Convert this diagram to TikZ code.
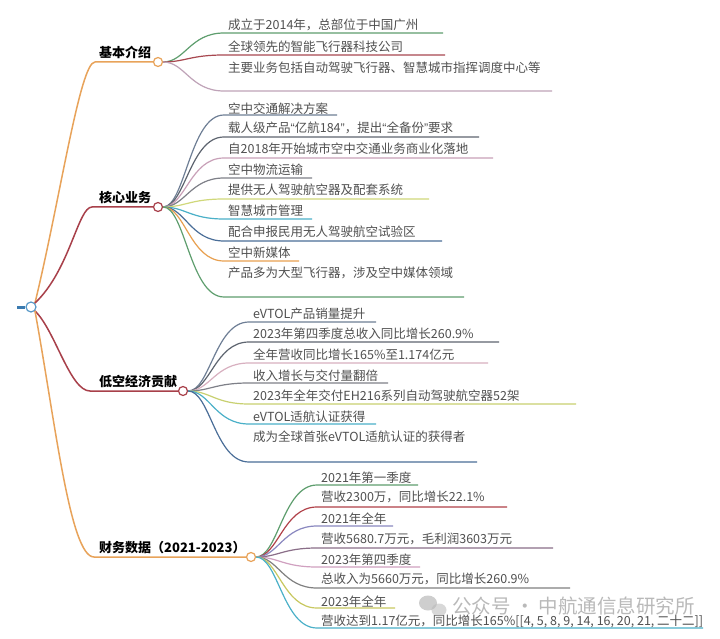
\documentclass[tikz,border=0pt]{standalone}
\usepackage{fontspec}
\setmainfont{Noto Sans CJK SC}
\newfontfamily\latinq{Liberation Sans}
\newcommand\myLq{{\latinq “}}
\newcommand\myRq{{\latinq ”}}
\definecolor{morange}{HTML}{E8A35A}
\definecolor{mred}{HTML}{A8404A}
\definecolor{mblue}{HTML}{3A7AB0}
\definecolor{mcirc}{HTML}{5A9AC8}
\definecolor{ktext}{HTML}{505050}
\definecolor{kgreen}{HTML}{5E9E6E}
\definecolor{kred}{HTML}{A84850}
\definecolor{kmauve}{HTML}{BFA3B8}
\definecolor{kbluegray}{HTML}{6E7E95}
\definecolor{kdark}{HTML}{5E6570}
\definecolor{kpink}{HTML}{C8A0B8}
\definecolor{kgray}{HTML}{7E8088}
\definecolor{kyellow}{HTML}{D0D87A}
\definecolor{kcyan}{HTML}{4AB0C8}
\definecolor{ksteel}{HTML}{4A6E98}
\definecolor{korange}{HTML}{E8A050}
\definecolor{kpinkb}{HTML}{D8B0C0}
\definecolor{kyellowb}{HTML}{C8D070}
\definecolor{kredb}{HTML}{B04048}
\definecolor{kpurple}{HTML}{8A88C0}
\definecolor{kmauveb}{HTML}{8A6E88}
\definecolor{kpinkc}{HTML}{D0A0C0}
\definecolor{kgrayb}{HTML}{808080}
\definecolor{kyellowc}{HTML}{C8C860}
\tikzset{
  hub/.style={circle, fill=white, line width=1.2pt, minimum size=9pt, inner sep=0pt},
  mainline/.style={line width=1.5pt},
  kidline/.style={line width=1.2pt},
  kidtext/.style={anchor=west, inner sep=0pt, text=ktext, font=\fontsize{12.5}{14}\selectfont},
  lab/.style={anchor=south west, inner sep=0pt, font=\fontsize{13}{15}\selectfont\bfseries, text=black},
}
% name, parent, colour, xtext, ytext, yline, xend, text
\newcommand\kid[8]{%
  \node[kidtext] (#1) at (#4,#5) {#8};
  \coordinate (#1-s) at ({#4-4},#6);
  \coordinate (#1-e) at (#7,#6);
  \draw[kidline, draw=#3] (#2.east) .. controls +(22,0) and +(-34,0) .. (#1-s) -- (#1-e);
}
\begin{document}
\begin{tikzpicture}[x=1pt,y=-1pt]
\useasboundingbox (0,0) rectangle (720,639);
\fill[white] (0,0) rectangle (720,639);

% root
\node[hub, draw=mcirc, minimum size=10pt] (root) at (31,307) {};
\coordinate (rootdash) at (17,307);
\draw[mblue, line width=3pt] (rootdash) -- (root.west);

% main branches
\node[hub, draw=morange] (b1) at (158,62) {};
\node[lab] (b1t) at (99,59) {基本介绍};
\coordinate (b1s) at (95,62);
\draw[mainline, morange] (root.north east) .. controls (60,200) and (80,62) .. (b1s) -- (b1.west);

\node[hub, draw=mred] (b2) at (158,207) {};
\node[lab] (b2t) at (99,204) {核心业务};
\coordinate (b2s) at (92,207);
\draw[mainline, mred] (root.north east) .. controls (70,270) and (78,207) .. (b2s) -- (b2.west);

\node[hub, draw=mred] (b3) at (183,391) {};
\node[lab] (b3t) at (99,388) {低空经济贡献};
\coordinate (b3s) at (90,391);
\draw[mainline, mred] (root.south east) .. controls (55,330) and (70,391) .. (b3s) -- (b3.west);

\node[hub, draw=morange] (b4) at (251,557) {};
\node[lab] (b4t) at (99,554) {财务数据（2021-2023）};
\coordinate (b4s) at (94,557);
\draw[mainline, morange] (root.south east) .. controls (55,420) and (70,557) .. (b4s) -- (b4.west);

% 基本介绍
\kid{c11}{b1}{kgreen}{228}{25}{33}{443}{成立于2014年，总部位于中国广州}
\kid{c12}{b1}{kred}{228}{47}{55}{445}{全球领先的智能飞行器科技公司}
\kid{c13}{b1}{kmauve}{228}{68}{91}{552}{主要业务包括自动驾驶飞行器、智慧城市指挥调度中心等}

% 核心业务
\kid{c21}{b2}{kbluegray}{228}{109}{115}{337}{空中交通解决方案}
\kid{c22}{b2}{kdark}{228}{128}{137}{479}{载人级产品\myLq 亿航184\myRq ，提出\myLq 全备份\myRq 要求}
\kid{c23}{b2}{kpink}{228}{149}{158}{493}{自2018年开始城市空中交通业务商业化落地}
\kid{c24}{b2}{kgray}{228}{170}{178}{312}{空中物流运输}
\kid{c25}{b2}{kyellow}{228}{190}{199}{429}{提供无人驾驶航空器及配套系统}
\kid{c26}{b2}{kcyan}{228}{211}{219}{312}{智慧城市管理}
\kid{c27}{b2}{ksteel}{228}{232}{241}{442}{配合申报民用无人驾驶航空试验区}
\kid{c28}{b2}{korange}{228}{253}{261}{299}{空中新媒体}
\kid{c29}{b2}{kgreen}{228}{273}{297}{464}{产品多为大型飞行器，涉及空中媒体领域}

% 低空经济贡献
\kid{c31}{b3}{kbluegray}{253}{314}{322}{376}{eVTOL产品销量提升}
\kid{c32}{b3}{kdark}{253}{334}{342}{499}{2023年第四季度总收入同比增长260.9\%}
\kid{c33}{b3}{kpinkb}{253}{355}{363}{488}{全年营收同比增长165\%至1.174亿元}
\kid{c34}{b3}{kgray}{253}{376}{383}{388}{收入增长与交付量翻倍}
\kid{c35}{b3}{kyellowb}{253}{396}{404}{576}{2023年全年交付EH216系列自动驾驶航空器52架}
\kid{c36}{b3}{kcyan}{253}{417}{424}{376}{eVTOL适航认证获得}
\kid{c37}{b3}{ksteel}{253}{437}{462}{477}{成为全球首张eVTOL适航认证的获得者}

% 财务数据
\kid{c41}{b4}{kgreen}{321}{478}{485}{418}{2021年第一季度}
\kid{c42}{b4}{kredb}{321}{497}{507}{507}{营收2300万，同比增长22.1\%}
\kid{c43}{b4}{kpurple}{321}{519}{526}{393}{2021年全年}
\kid{c44}{b4}{kmauveb}{321}{539}{548}{553}{营收5680.7万元，毛利润3603万元}
\kid{c45}{b4}{kpinkc}{321}{560}{567}{420}{2023年第四季度}
\kid{c46}{b4}{kgrayb}{321}{579}{588}{570}{总收入为5660万元，同比增长260.9\%}
\kid{c47}{b4}{kyellowc}{321}{602}{608}{395}{2023年全年}
\kid{c48}{b4}{kcyan}{321}{621}{628}{703}{营收达到1.17亿元，同比增长165\%[[4, 5, 8, 9, 14, 16, 20, 21, 二十二]]}

% watermark
\begin{scope}[opacity=0.55]
\fill[gray!70] (428,603) ellipse (9pt and 7.5pt);
\fill[gray!55] (439,610) ellipse (7.5pt and 6.5pt);
\node[anchor=west, inner sep=0pt, text=gray, font=\fontsize{19.5}{22}\selectfont] (wm) at (452,606) {公众号 · 中航通信息研究所};
\end{scope}
\end{tikzpicture}
\end{document}
